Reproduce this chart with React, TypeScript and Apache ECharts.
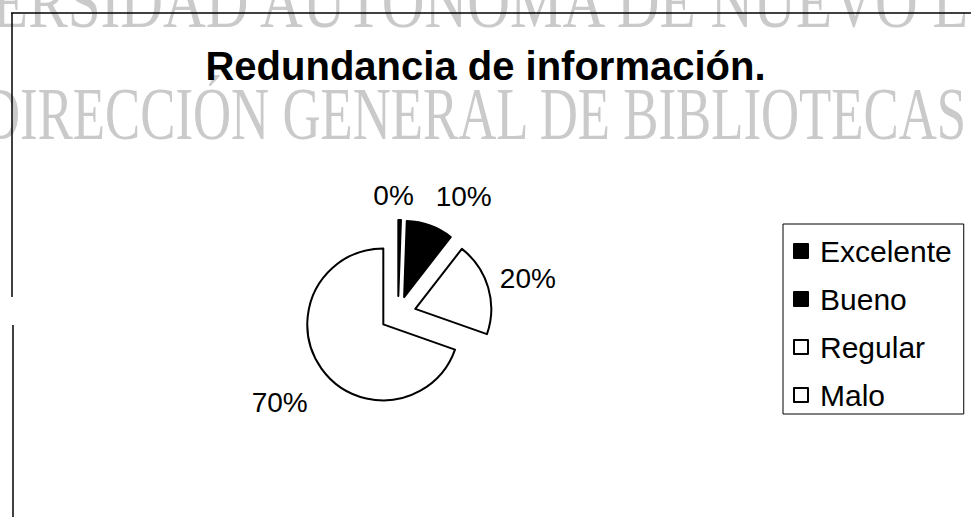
import React, { useEffect, useRef } from "react";
import * as echarts from "echarts";

const titleText = "Redundancia de información.";
const categories = ["Excelente", "Bueno", "Regular", "Malo"];
const values = [0, 10, 20, 70];
const fills = ["#000000", "#000000", "#ffffff", "#ffffff"];
const watermarkTop = "ERSIDAD AUTÓNOMA DE NUEVO L";
const watermarkMid = "DIRECCIÓN GENERAL DE BIBLIOTECAS";

// label nudges (dx, dy) to mimic the original placement of the outside labels
const labelNudges: Array<[number, number]> = [
  [9, -17],
  [-2, -22],
  [-1, -7],
  [-2, 30],
];

const SANS = '"Liberation Sans", Arial, sans-serif';
const SERIF = '"Liberation Serif", "Times New Roman", serif';

export default function App() {
  const ref = useRef<HTMLDivElement>(null);
  useEffect(() => {
    if (!ref.current) return;
    const chart = echarts.init(ref.current, undefined, { renderer: "svg" });
    const data = categories.map((name, i) => ({
      name,
      value: values[i],
      selected: true,
      itemStyle: { color: fills[i], borderColor: "#000", borderWidth: 2 },
    }));
    chart.setOption({
      animation: false,
      backgroundColor: "#ffffff",
      title: {
        text: titleText,
        left: "center",
        top: 41,
        textStyle: { fontFamily: SANS, fontSize: 40, fontWeight: "bold", color: "#000" },
      },
      graphic: [
        {
          type: "text",
          x: -8,
          y: -35,
          scaleX: 0.8,
          z: -10,
          style: { text: watermarkTop, font: `74px ${SERIF}`, fill: "#cacaca" },
        },
        {
          type: "text",
          x: -18,
          y: 77,
          scaleX: 0.713,
          z: -10,
          style: { text: watermarkMid, font: `74px ${SERIF}`, fill: "#cacaca" },
        },
        { type: "line", shape: { x1: 11, y1: 13, x2: 971, y2: 13 }, style: { stroke: "#000", lineWidth: 1.5 } },
        { type: "line", shape: { x1: 12, y1: 13, x2: 12, y2: 297 }, style: { stroke: "#000", lineWidth: 1.5 } },
        { type: "line", shape: { x1: 13, y1: 325, x2: 13, y2: 517 }, style: { stroke: "#000", lineWidth: 1.5 } },
      ],
      legend: {
        orient: "vertical",
        left: 783,
        top: 224,
        data: categories,
        icon: "rect",
        itemWidth: 14,
        itemHeight: 14,
        itemGap: 18,
        padding: [12, 12, 4, 10],
        borderColor: "#000",
        borderWidth: 1,
        selectedMode: false,
        textStyle: { fontFamily: SANS, fontSize: 30, color: "#000", lineHeight: 29, padding: [0, 0, 0, 7] },
      },
      series: [
        {
          type: "pie",
          center: [398, 314],
          radius: 76,
          startAngle: 90,
          clockwise: true,
          minAngle: 2,
          minShowLabelAngle: 0,
          selectedMode: "multiple",
          selectedOffset: 18,
          avoidLabelOverlap: false,
          emphasis: { disabled: true },
          label: {
            show: true,
            position: "outside",
            formatter: "{d}%",
            fontFamily: SANS,
            fontSize: 28,
            color: "#000",
          },
          labelLine: { show: false, length: 8, length2: 0 },
          labelLayout: (params: any) => {
            const n = labelNudges[params.dataIndex] || [0, 0];
            const out: any = { dx: n[0], dy: n[1] };
            if (params.dataIndex === 0) out.align = "right";
            return out;
          },
          data,
        },
      ],
    });
    return () => chart.dispose();
  }, []);
  return (
    <div
      ref={ref}
      style={{ position: "fixed", left: 0, top: 0, width: 971, height: 517 }}
    />
  );
}
